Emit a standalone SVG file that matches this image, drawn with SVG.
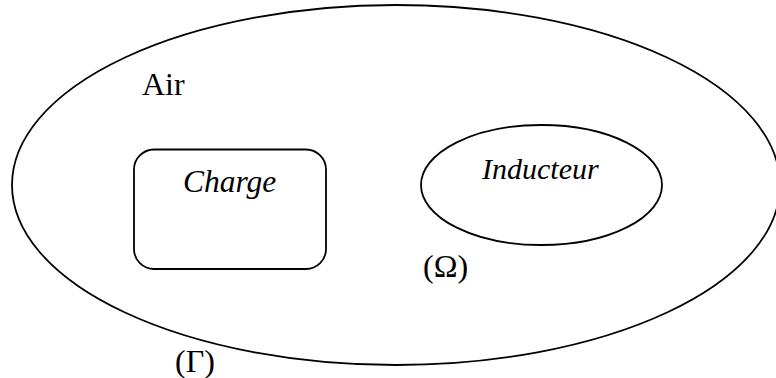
<svg xmlns="http://www.w3.org/2000/svg" width="776" height="378" viewBox="0 0 776 378">
  <style>
    .outline { fill: none; stroke: #000; stroke-width: 1.8; }
    .label { font-family: "Liberation Serif", "Times New Roman", serif; font-size: 32px; fill: #000; }
    .name { font-family: "Liberation Serif", "Times New Roman", serif; font-size: 30px; font-style: italic; fill: #000; }
  </style>
  <rect width="776" height="378" fill="#fff"/>

  <!-- outer domain boundary -->
  <g id="domain">
    <ellipse class="outline" cx="396" cy="185" rx="384" ry="180"/>
    <text class="label" x="142" y="95">Air</text>
    <text class="label" x="423" y="277">(Ω)</text>
    <text class="label" x="175" y="372">(Γ)</text>
  </g>

  <!-- load -->
  <g id="charge">
    <rect class="outline" x="134" y="149.5" width="192" height="119.5" rx="20" ry="20"/>
    <text class="name" x="183" y="192" style="font-size:31.5px">Charge</text>
  </g>

  <!-- inductor -->
  <g id="inducteur">
    <ellipse class="outline" cx="541.5" cy="185" rx="120.5" ry="60"/>
    <text class="name" x="482" y="179">Inducteur</text>
  </g>

  <g id="connectors"/>
</svg>
